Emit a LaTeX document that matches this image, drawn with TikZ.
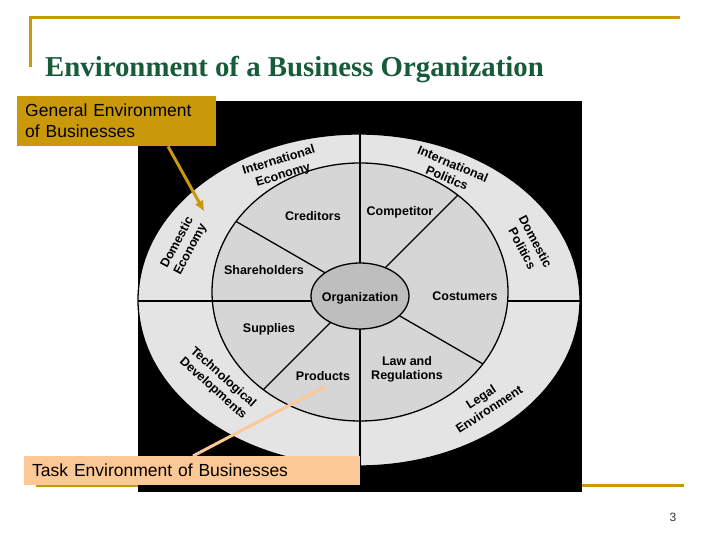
\documentclass[tikz,border=0pt]{standalone}
\usepackage{fontspec}
\setmainfont{Liberation Serif}
\setsansfont{Liberation Sans}
\usetikzlibrary{arrows.meta}

\definecolor{slidegold}{RGB}{201,153,10}
\definecolor{titlegreen}{RGB}{22,92,58}
\definecolor{taskpeach}{RGB}{251,200,150}
\definecolor{outerring}{RGB}{228,228,228}
\definecolor{middlering}{RGB}{214,214,214}
\definecolor{innerorg}{RGB}{190,190,190}

\tikzset{
	seg/.style={font=\sffamily\bfseries\fontsize{12.5}{14}\selectfont, align=center, inner sep=0pt},
	ring/.style={font=\sffamily\bfseries\fontsize{12.5}{15}\selectfont, align=center, inner sep=0pt},
	envbox/.style={anchor=north west, font=\sffamily\fontsize{17.5}{21}\selectfont, align=left, inner xsep=8pt, inner ysep=0pt},
	rule/.style={slidegold, line width=3pt},
}

\begin{document}
\begin{tikzpicture}[x=1pt,y=1pt]
				\useasboundingbox (0,0) rectangle (720,540);
				
				% slide frame
				\draw[rule] (30,473) -- (30,522) -- (680,522);
				\draw[rule] (36,54) -- (684,54);
				\node[anchor=base west, inner sep=0pt, text=titlegreen, font=\bfseries\fontsize{28.8}{32}\selectfont] (title) at (45,463) {Environment of a Business Organization};
				\node[anchor=base, inner sep=0pt, font=\sffamily\fontsize{12}{14}\selectfont, text=black!80] (pagenum) at (673,18) {3};
				
				% the rings
				\fill[black] (138,48) rectangle (582,439);
				\filldraw[fill=outerring, draw=black, line width=1.3pt] (359,240) ellipse [x radius=221, y radius=166];
				\begin{scope}
					\clip (359,240) ellipse [x radius=221, y radius=166];
					\draw[line width=1.3pt] (360,0) -- (360,540);
					\draw[line width=1.3pt] (0,239) -- (720,239);
				\end{scope}
				\filldraw[fill=middlering, draw=black, line width=1.3pt] (360,248) ellipse [x radius=148, y radius=129];
				\begin{scope}
					\clip (360,248) ellipse [x radius=148, y radius=129];
					\draw[line width=1.3pt] (360,0) -- (360,540);
					\draw[line width=1.3pt] (0,239) -- (360,239);
					\foreach \ang in {150,45,225,-30}
						\draw[line width=1.3pt] (360,247) -- ++(\ang:200);
				\end{scope}
				\filldraw[fill=innerorg, draw=black, line width=1.3pt] (360,244) ellipse [x radius=49, y radius=33];
				
				% task environment
				\node[seg] (org) at (360,242) {Organization};
				\node[seg] (creditors) at (313,324) {Creditors};
				\node[seg] (competitor) at (400,328) {Competitor};
				\node[seg] (shareholders) at (264,270) {Shareholders};
				\node[seg] (costumers) at (465,244) {Costumers};
				\node[seg] (supplies) at (269,211) {Supplies};
				\node[seg] (products) at (323,164) {Products};
				\node[seg] (law) at (407,171) {Law and\\Regulations};
				
				% general environment
				\node[ring, rotate=17] (intecon) at (281,372) {International\\Economy};
				\node[ring, rotate=-23] (intpol) at (450,369) {International\\Politics};
				\node[ring, rotate=62] (domecon) at (184,294) {Domestic\\Economy};
				\node[ring, rotate=-62] (dompol) at (529,295) {Domestic\\Politics};
				\node[ring, rotate=-42] (tech) at (218,157) {Technological\\Developments};
				\node[ring, rotate=33] (legal) at (485,137) {Legal\\Environment};
				
				% callouts
				\node[envbox, fill=slidegold, text width=183pt, minimum height=50pt] (general) at (17,444) {General Environment\\of Businesses};
				\node[envbox, fill=taskpeach, text width=320pt, minimum height=29pt] (task) at (24,84) {Task Environment of Businesses};
				\coordinate (gentip) at (204,329);
				\coordinate (tasktip) at (328,155);
				\draw[slidegold, line width=3pt, -{Triangle[length=10pt,width=8pt]}] ([xshift=151pt]general.south west) -- (gentip);
				\draw[taskpeach, line width=3pt, -{Latex[length=6pt,width=5pt]}] ([xshift=169pt]task.north west) -- (tasktip);
			\end{tikzpicture}
\end{document}
